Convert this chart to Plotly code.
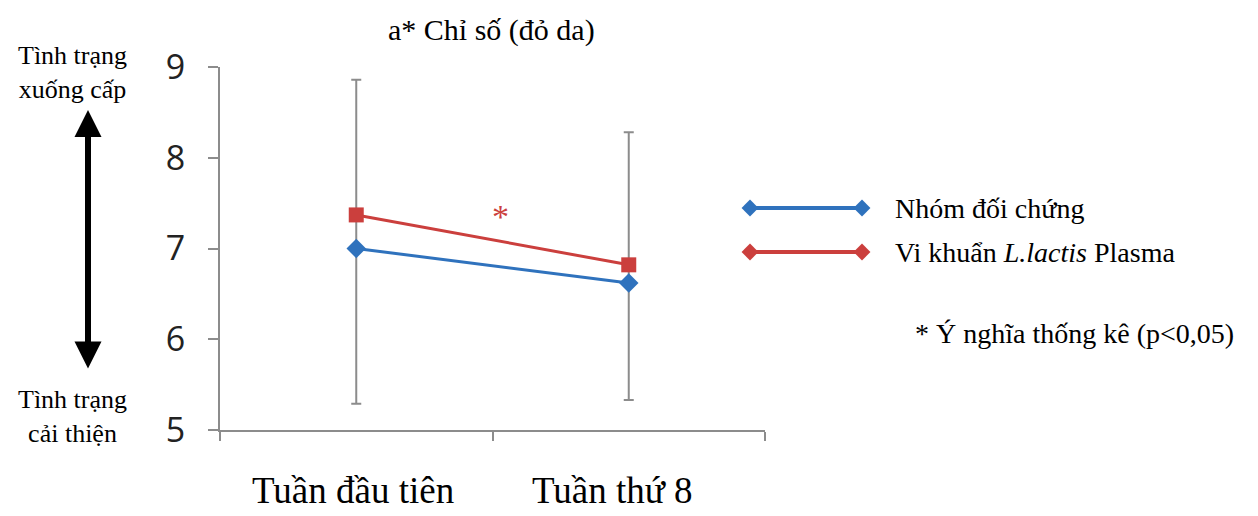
import plotly.graph_objects as go

# ---- data ----
categories = ["Tuần đầu tiên", "Tuần thứ 8"]
control_values = [7.00, 6.62]
plasma_values = [7.37, 6.82]
err_upper = [8.86, 8.28]
err_lower = [5.29, 5.33]
y_ticks = [5, 6, 7, 8, 9]
series_names = ["Nhóm đối chứng", "Vi khuẩn <i>L.lactis</i> Plasma"]

W, H = 1258, 516
BLUE = "#2f72bd"
RED = "#cb3f3d"
GRAY = "#8c8c8c"
SERIF = "Liberation Serif"

def px_x(p):
    return p / W

def px_y(p):
    return 1 - p / H

fig = go.Figure()

# error bars (gray)
fig.add_trace(go.Scatter(
    x=categories, y=control_values, mode="markers",
    marker=dict(size=1, opacity=0),
    error_y=dict(type="data", symmetric=False,
                 array=[u - v for u, v in zip(err_upper, control_values)],
                 arrayminus=[v - l for l, v in zip(err_lower, control_values)],
                 color=GRAY, thickness=2, width=5),
    showlegend=False, hoverinfo="skip", xaxis="x", yaxis="y"))

fig.add_trace(go.Scatter(
    x=categories, y=control_values, mode="lines+markers",
    line=dict(color=BLUE, width=3),
    marker=dict(symbol="diamond", size=15, color=BLUE),
    name=series_names[0], showlegend=False, cliponaxis=False))

fig.add_trace(go.Scatter(
    x=categories, y=plasma_values, mode="lines+markers",
    line=dict(color=RED, width=3),
    marker=dict(symbol="square", size=15, color=RED),
    name=series_names[1], showlegend=False, cliponaxis=False))

# custom legend samples (line with diamond at each end)
legend_colors = [BLUE, RED]
for i, (nm, col) in enumerate(zip(series_names, legend_colors)):
    fig.add_trace(go.Scatter(
        x=[0, 1], y=[i, i], mode="lines+markers",
        line=dict(color=col, width=4),
        marker=dict(symbol="diamond", size=13, color=col),
        xaxis="x2", yaxis="y2", showlegend=False, cliponaxis=False,
        hoverinfo="skip"))

axis_common = dict(showgrid=False, zeroline=False)

fig.update_layout(
    width=W, height=H,
    margin=dict(l=0, r=0, t=0, b=0),
    paper_bgcolor="white", plot_bgcolor="white",
    showlegend=False,
    xaxis=dict(domain=[px_x(220), px_x(765)], type="category",
               categoryorder="array", categoryarray=categories,
               range=[-0.5, 1.5], tickson="boundaries",
               ticks="outside", ticklen=9, tickwidth=2, tickcolor=GRAY,
               showline=True, linecolor=GRAY, linewidth=2,
               showticklabels=False, anchor="y", automargin=False,
               **axis_common),
    yaxis=dict(domain=[px_y(430), px_y(67)], range=[5, 9],
               tickvals=y_ticks, ticks="outside", ticklen=10, tickwidth=2,
               tickcolor=GRAY, showline=True, linecolor=GRAY, linewidth=2,
               tickfont=dict(family="Open Sans", size=34, color="#222222"),
               ticklabelstandoff=16, anchor="x", automargin=False,
               **axis_common),
    xaxis2=dict(domain=[px_x(750), px_x(862)], range=[0, 1], visible=False,
                anchor="y2", **axis_common),
    yaxis2=dict(domain=[px_y(274), px_y(186)], range=[1.5, -0.5],
                visible=False, anchor="x2", **axis_common),
)

def txt(text, x, y, size, xanchor="center", color="black", **kw):
    d = dict(text=text, x=x, y=y, showarrow=False, xanchor=xanchor,
             yanchor="middle", font=dict(family=SERIF, size=size, color=color))
    d.setdefault("xref", "paper")
    d.setdefault("yref", "paper")
    d.update(kw)
    return d

ann = []
# title
ann.append(txt("a* Chỉ số (đỏ da)", px_x(491), px_y(30), 30))
# x category labels
for i, (cat, sh) in enumerate(zip(categories, [-3, -16])):
    ann.append(txt(cat, i, px_y(490), 37, xref="x", xshift=sh))
# left labels
ann.append(txt("Tình trạng<br>xuống cấp", px_x(72), px_y(72), 26))
ann.append(txt("Tình trạng<br>cải thiện", px_x(72), px_y(416), 26))
# double arrow
ann.append(dict(text="", x=px_x(88), y=px_y(110), xref="paper", yref="paper",
                ax=0, ay=260, axref="pixel", ayref="pixel",
                showarrow=True, arrowhead=2, arrowside="end+start",
                arrowwidth=6, arrowsize=0.9, arrowcolor="black",
                standoff=0, startstandoff=0))
# significance star
ann.append(txt("*", px_x(500), px_y(216), 34, color=RED))
# legend labels
for i, nm in enumerate(series_names):
    ann.append(txt(nm, 1, i, 28, xanchor="left", xref="x2", yref="y2",
                   xshift=31))
# note
ann.append(txt("* Ý nghĩa thống kê (p&lt;0,05)", px_x(913), px_y(333), 28,
               xanchor="left"))

fig.update_layout(annotations=ann)

fig.write_html("out.html")
